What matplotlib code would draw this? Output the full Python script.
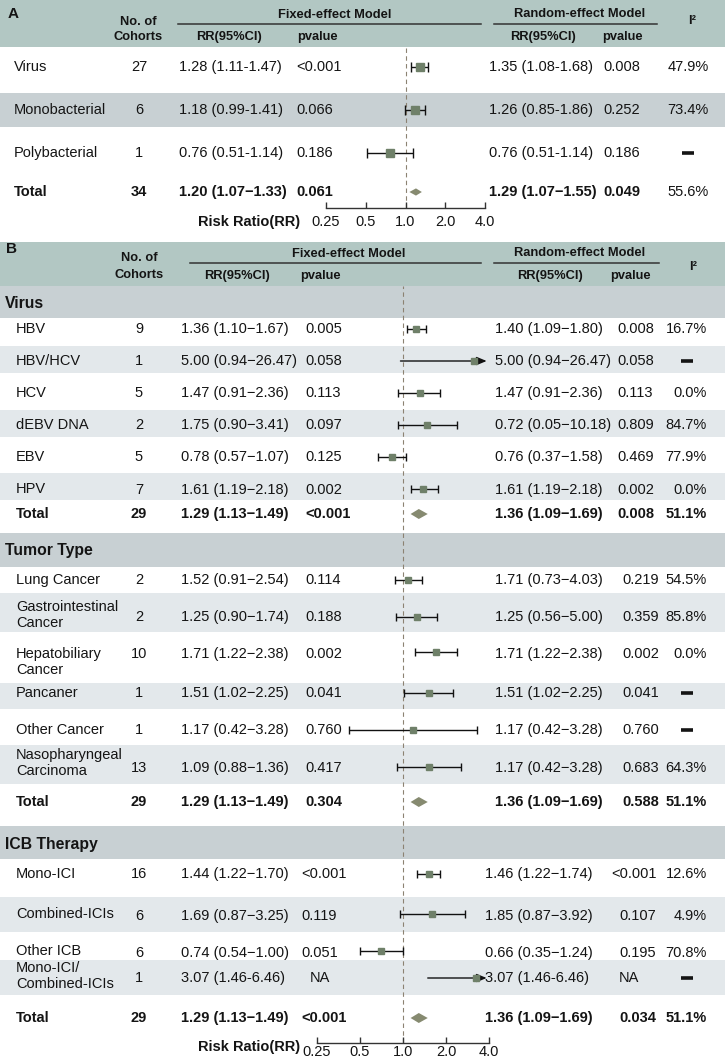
import matplotlib
matplotlib.use('Agg')
import matplotlib.pyplot as plt
from matplotlib.patches import Polygon, Rectangle
from matplotlib.ticker import NullLocator

plt.rcParams['font.family'] = ['Liberation Sans', 'DejaVu Sans']

# ======================= DATA =======================
# ---- Panel A ----
A_groups = ['Virus', 'Monobacterial', 'Polybacterial']
A_n = [27, 6, 1]
A_fix_est = [1.28, 1.18, 0.76]
A_fix_lo = [1.11, 0.99, 0.51]
A_fix_hi = [1.47, 1.41, 1.14]
A_fix_ci = ['1.28 (1.11-1.47)', '1.18 (0.99-1.41)', '0.76 (0.51-1.14)']
A_fix_p = ['<0.001', '0.066', '0.186']
A_ran_ci = ['1.35 (1.08-1.68)', '1.26 (0.85-1.86)', '0.76 (0.51-1.14)']
A_ran_p = ['0.008', '0.252', '0.186']
A_i2 = ['47.9%', '73.4%', None]
A_total_n = 34
A_total_fix = [1.20, 1.07, 1.33]
A_total_fix_ci = '1.20 (1.07\u22121.33)'
A_total_fix_p = '0.061'
A_total_ran_ci = '1.29 (1.07\u22121.55)'
A_total_ran_p = '0.049'
A_total_i2 = '55.6%'

# ---- Panel B ----
B_sections = ['Virus', 'Tumor Type', 'ICB Therapy']
B_labels = [['HBV', 'HBV/HCV', 'HCV', 'dEBV DNA', 'EBV', 'HPV'],
            ['Lung Cancer', 'Gastrointestinal\nCancer', 'Hepatobiliary\nCancer',
             'Pancaner', 'Other Cancer', 'Nasopharyngeal\nCarcinoma'],
            ['Mono-ICI', 'Combined-ICIs', 'Other ICB', 'Mono-ICI/\nCombined-ICIs']]
B_n = [[9, 1, 5, 2, 5, 7], [2, 2, 10, 1, 1, 13], [16, 6, 6, 1]]
M = '\u2212'
B_fix_ci = [['1.36 (1.10%s1.67)' % M, '5.00 (0.94%s26.47)' % M, '1.47 (0.91%s2.36)' % M,
             '1.75 (0.90%s3.41)' % M, '0.78 (0.57%s1.07)' % M, '1.61 (1.19%s2.18)' % M],
            ['1.52 (0.91%s2.54)' % M, '1.25 (0.90%s1.74)' % M, '1.71 (1.22%s2.38)' % M,
             '1.51 (1.02%s2.25)' % M, '1.17 (0.42%s3.28)' % M, '1.09 (0.88%s1.36)' % M],
            ['1.44 (1.22%s1.70)' % M, '1.69 (0.87%s3.25)' % M, '0.74 (0.54%s1.00)' % M,
             '3.07 (1.46-6.46)']]
B_fix_p = [['0.005', '0.058', '0.113', '0.097', '0.125', '0.002'],
           ['0.114', '0.188', '0.002', '0.041', '0.760', '0.417'],
           ['<0.001', '0.119', '0.051', 'NA']]
B_ran_ci = [['1.40 (1.09%s1.80)' % M, '5.00 (0.94%s26.47)' % M, '1.47 (0.91%s2.36)' % M,
             '0.72 (0.05%s10.18)' % M, '0.76 (0.37%s1.58)' % M, '1.61 (1.19%s2.18)' % M],
            ['1.71 (0.73%s4.03)' % M, '1.25 (0.56%s5.00)' % M, '1.71 (1.22%s2.38)' % M,
             '1.51 (1.02%s2.25)' % M, '1.17 (0.42%s3.28)' % M, '1.17 (0.42%s3.28)' % M],
            ['1.46 (1.22%s1.74)' % M, '1.85 (0.87%s3.92)' % M, '0.66 (0.35%s1.24)' % M,
             '3.07 (1.46-6.46)']]
B_ran_p = [['0.008', '0.058', '0.113', '0.809', '0.469', '0.002'],
           ['0.219', '0.359', '0.002', '0.041', '0.760', '0.683'],
           ['<0.001', '0.107', '0.195', 'NA']]
B_i2 = [['16.7%', None, '0.0%', '84.7%', '77.9%', '0.0%'],
        ['54.5%', '85.8%', '0.0%', None, None, '64.3%'],
        ['12.6%', '4.9%', '70.8%', None]]
# marks as drawn in the picture
B_mark_est = [[1.24, 3.12, 1.31, 1.47, 0.84, 1.39],
              [1.09, 1.25, 1.71, 1.51, 1.17, 1.52],
              [1.51, 1.60, 0.70, 3.24]]
B_mark_lo = [[1.07, 0.96, 0.93, 0.92, 0.67, 1.13],
             [0.88, 0.90, 1.22, 1.02, 0.42, 0.91],
             [1.25, 0.95, 0.50, 1.49]]
B_mark_hi = [[1.44, 9.70, 1.83, 2.38, 1.05, 1.76],
             [1.36, 1.74, 2.38, 2.25, 3.28, 2.54],
             [1.82, 2.73, 1.00, 6.46]]
B_total_n = [29, 29, 29]
B_total_mark = [1.29, 1.13, 1.49]
B_total_fix_ci = ['1.29 (1.13%s1.49)' % M] * 3
B_total_fix_p = ['<0.001', '0.304', '<0.001']
B_total_ran_ci = ['1.36 (1.09%s1.69)' % M] * 3
B_total_ran_p = ['0.008', '0.588', '0.034']
B_total_i2 = ['51.1%'] * 3

tick_vals = [0.25, 0.5, 1.0, 2.0, 4.0]
tick_labels = ['0.25', '0.5', '1.0', '2.0', '4.0']

# ======================= STYLE / LAYOUT =======================
W, H = 725, 1061
FS = 10.5
HFS = 9.3
TC = '#141414'
HEAD = '#b2c7c3'
SEC = '#c8d0d3'
STRIPE = '#e3e8eb'
SQ = '#6f8069'
DM = '#868a70'
DASH = '#8c8272'

fig = plt.figure(figsize=(W / 100, H / 100), dpi=100)
bg = fig.add_axes([0, 0, 1, 1])
bg.set_xlim(0, W)
bg.set_ylim(H, 0)
bg.axis('off')


def band(y0, y1, color):
    bg.add_patch(Rectangle((0, y0), W, y1 - y0, color=color, lw=0, zorder=0))


def txt(x, y, s, ha='left', bold=False, size=FS):
    bg.text(x, y, s, ha=ha, va='center', fontsize=size,
            fontweight='bold' if bold else 'normal', color=TC, zorder=2)


def dash(x, y):
    bg.plot([x - 6, x + 6], [y, y], color=TC, lw=2.6, solid_capstyle='butt', zorder=2)


def forest_ax(x0, x1, y0, y1, pad):
    ax = fig.add_axes([x0 / W, 1 - y1 / H, (x1 - x0) / W, (y1 - y0) / H])
    ax.set_xscale('log', base=2)
    ax.set_xlim(0.25, 4.0)
    ax.set_ylim(y1, y0)
    ax.patch.set_alpha(0)
    for s in ['top', 'right', 'left']:
        ax.spines[s].set_visible(False)
    ax.spines['bottom'].set_color('#333333')
    ax.spines['bottom'].set_linewidth(1.0)
    ax.set_xticks(tick_vals)
    ax.set_xticklabels(tick_labels)
    ax.xaxis.set_minor_locator(NullLocator())
    ax.set_yticks([])
    ax.tick_params(axis='x', direction='in', length=4, width=1.0, pad=pad,
                   labelsize=FS, colors='#333333', labelcolor=TC)
    ax.axvline(1.0, color=DASH, ls=(0, (4, 3)), lw=0.8, zorder=1)
    return ax


def draw_est(ax, y, e, lo, hi, ms, cs):
    if hi > 4.0:
        ax.annotate('', xy=(3.85, y), xytext=(lo, y),
                    arrowprops=dict(arrowstyle='-|>,head_length=0.6,head_width=0.25',
                                    color='#111111', lw=1.0, shrinkA=0, shrinkB=0),
                    zorder=3)
        ax.plot([e], [y], marker='s', ms=ms, color=SQ, ls='none', zorder=4)
    else:
        ax.errorbar([e], [y], xerr=[[e - lo], [hi - e]], fmt='s', ms=ms, color=SQ,
                    ecolor='#111111', elinewidth=1.0, capsize=cs, capthick=1.0, zorder=3)


def diamond(ax, y, e, lo, hi, h):
    ax.add_patch(Polygon([(lo, y), (e, y - h), (hi, y), (e, y + h)], closed=True,
                         color=DM, lw=0, zorder=3))


# ======================= PANEL A =======================
band(0, 47, HEAD)
band(93, 127, SEC)
txt(8, 14, 'A', bold=True, size=11)
txt(138, 22, 'No. of', ha='center', bold=True, size=HFS)
txt(138, 37, 'Cohorts', ha='center', bold=True, size=HFS)
txt(335, 15, 'Fixed-effect Model', ha='center', bold=True, size=HFS)
txt(580, 14, 'Random-effect Model', ha='center', bold=True, size=HFS)
bg.plot([178, 481], [24, 24], color='#333333', lw=1.1)
bg.plot([494, 657], [24, 24], color='#333333', lw=1.1)
txt(692, 21, 'I\u00b2', ha='center', bold=True, size=HFS)
txt(229, 37, 'RR(95%CI)', ha='center', bold=True, size=HFS)
txt(317, 37, 'pvalue', ha='center', bold=True, size=HFS)
txt(543, 37, 'RR(95%CI)', ha='center', bold=True, size=HFS)
txt(622, 37, 'pvalue', ha='center', bold=True, size=HFS)

A_row_y = [67, 110, 153]
A_total_y = 192
for i, g in enumerate(A_groups):
    y = A_row_y[i]
    txt(14, y, g)
    txt(139, y, str(A_n[i]), ha='center')
    txt(179, y, A_fix_ci[i])
    txt(296, y, A_fix_p[i])
    txt(489, y, A_ran_ci[i])
    txt(603, y, A_ran_p[i])
    if A_i2[i] is None:
        dash(688, y)
    else:
        txt(688, y, A_i2[i], ha='center')
y = A_total_y
txt(14, y, 'Total', bold=True)
txt(139, y, str(A_total_n), ha='center', bold=True)
txt(179, y, A_total_fix_ci, bold=True)
txt(296, y, A_total_fix_p, bold=True)
txt(489, y, A_total_ran_ci, bold=True)
txt(603, y, A_total_ran_p, bold=True)
txt(688, y, A_total_i2, ha='center')
txt(300, 222, 'Risk Ratio(RR)', ha='right', bold=True)

axA = forest_ax(326, 485, 47, 208, 5)
for i in range(len(A_groups)):
    draw_est(axA, A_row_y[i], A_fix_est[i], A_fix_lo[i], A_fix_hi[i], 5.4, 3.5)
diamond(axA, A_total_y, A_total_fix[0], A_total_fix[1], A_total_fix[2], 3.6)

# ======================= PANEL B =======================
band(242, 286, HEAD)
txt(6, 249, 'B', bold=True, size=11)
txt(139, 258, 'No. of', ha='center', bold=True, size=HFS)
txt(139, 275, 'Cohorts', ha='center', bold=True, size=HFS)
txt(349, 254, 'Fixed-effect Model', ha='center', bold=True, size=HFS)
txt(580, 253, 'Random-effect Model', ha='center', bold=True, size=HFS)
bg.plot([190, 481], [263, 263], color='#333333', lw=1.1)
bg.plot([494, 659], [263, 263], color='#333333', lw=1.1)
txt(693, 267, 'I\u00b2', ha='center', bold=True, size=HFS)
txt(237, 276, 'RR(95%CI)', ha='center', bold=True, size=HFS)
txt(320, 276, 'pvalue', ha='center', bold=True, size=HFS)
txt(550, 276, 'RR(95%CI)', ha='center', bold=True, size=HFS)
txt(630, 276, 'pvalue', ha='center', bold=True, size=HFS)

B_sec_band = [(286, 318), (533, 567), (826, 859)]
B_sec_y = [303, 551, 844]
B_row_y = [[329, 361, 393, 425, 457, 489],
           [580, 617, 652, 693, 730, 767],
           [874, 914, 951, 978]]
B_total_y = [514, 802, 1018]
B_stripes = [(346, 373), (410, 437), (473, 500), (593, 632), (683, 709),
             (745, 784), (897, 932), (960, 995)]
B_label_dy = [[0, 0, 0, 0, 0, 0], [0, -2, 10, 0, 0, -4], [0, 0, 0, -2]]
B_val_dy = [[0, 0, 0, 0, 0, 1], [0, 0, 2, 0, 0, 1], [0, 2, 2, 0]]
B_fix_p_x = [305, 305, 301]
B_ran_ci_x = [495, 495, 485]
B_ran_p_x = [617, 622, 619]

for (y0, y1) in B_sec_band:
    band(y0, y1, SEC)
for (y0, y1) in B_stripes:
    band(y0, y1, STRIPE)

axB = forest_ax(317, 489, 286, 1043, 1.5)
for s, sec in enumerate(B_sections):
    txt(5, B_sec_y[s], sec, bold=True, size=11.3)
    for i, lab in enumerate(B_labels[s]):
        y = B_row_y[s][i]
        yv = y + B_val_dy[s][i]
        bg.text(16, y + B_label_dy[s][i], lab, ha='left', va='center', fontsize=FS,
                color=TC, linespacing=1.15, zorder=2)
        txt(139, yv, str(B_n[s][i]), ha='center')
        txt(181, yv, B_fix_ci[s][i])
        pf = B_fix_p[s][i]
        txt(B_fix_p_x[s] + (9 if pf == 'NA' else 0), yv, pf)
        txt(B_ran_ci_x[s], yv, B_ran_ci[s][i])
        txt(B_ran_p_x[s] - (8 if B_ran_p[s][i].startswith('<') else 0), yv, B_ran_p[s][i])
        if B_i2[s][i] is None:
            dash(687, y)
        else:
            txt(707, yv, B_i2[s][i], ha='right')
        draw_est(axB, y, B_mark_est[s][i], B_mark_lo[s][i], B_mark_hi[s][i], 4.2, 2.6)
    y = B_total_y[s]
    txt(16, y, 'Total', bold=True)
    txt(139, y, str(B_total_n[s]), ha='center', bold=True)
    txt(181, y, B_total_fix_ci[s], bold=True)
    txt(B_fix_p_x[s], y, B_total_fix_p[s], bold=True)
    txt(B_ran_ci_x[s], y, B_total_ran_ci[s], bold=True)
    txt(B_ran_p_x[s], y, B_total_ran_p[s], bold=True)
    txt(707, y, B_total_i2[s], ha='right', bold=True)
    diamond(axB, y, B_total_mark[0], B_total_mark[1], B_total_mark[2], 5)

txt(300, 1047, 'Risk Ratio(RR)', ha='right', bold=True)

fig.savefig('out.png', dpi=100)
